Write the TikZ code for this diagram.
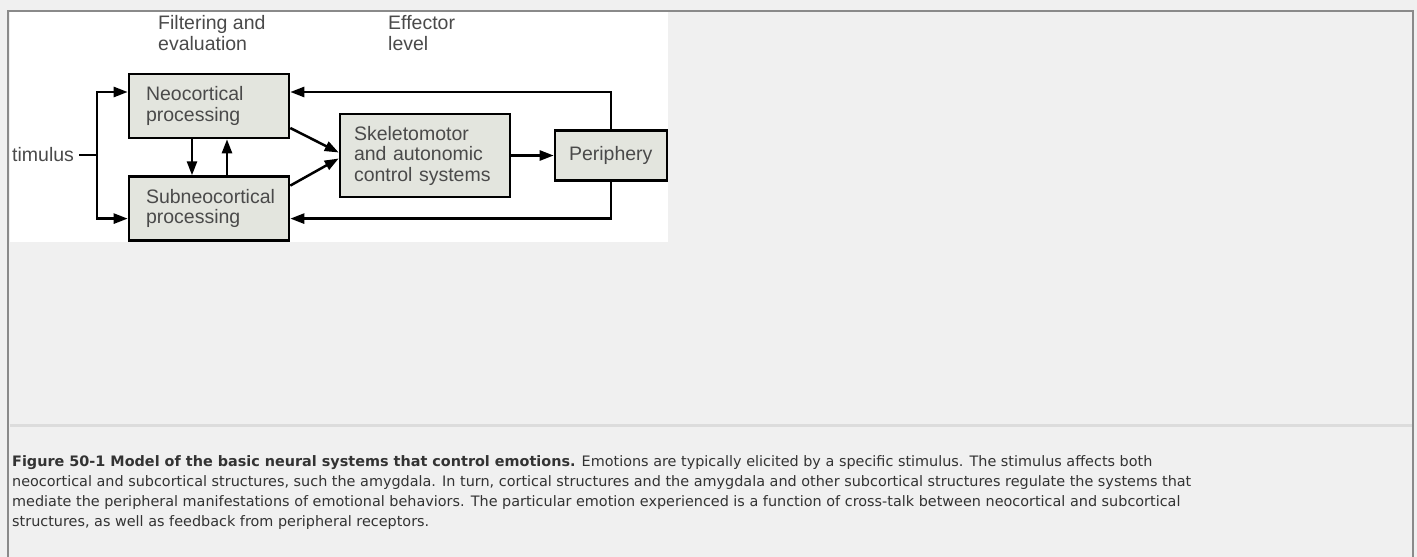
\documentclass[tikz,border=0pt]{standalone}
\usepackage{fontspec}
\newfontfamily\diagfont{Liberation Sans}
\newfontfamily\capfont{DejaVu Sans}
\usetikzlibrary{arrows.meta, positioning}

\definecolor{pagegray}{HTML}{F0F0F0}
\definecolor{framegray}{HTML}{8A8A8A}
\definecolor{rulegray}{HTML}{DCDCDC}
\definecolor{boxfill}{HTML}{E3E5DE}
\definecolor{labelgray}{HTML}{4A4A4A}
\definecolor{captext}{HTML}{333333}

\begin{document}
\begin{tikzpicture}[
    x=1pt, y=-1pt,
    every node/.style={font=\diagfont\fontsize{19.5}{20.5}\selectfont, text=labelgray},
    box/.style={rectangle, draw=black, line width=2.6pt, fill=boxfill, align=left, inner xsep=17pt, inner ysep=0pt},
    heading/.style={align=left, inner sep=0pt, anchor=west},
    arrow/.style={-{Triangle[length=14pt, width=10pt]}, line width=2.5pt},
    wire/.style={line width=2.5pt},
    caption/.style={anchor=north west, align=left, inner sep=0pt, font=\capfont\fontsize{14.4}{20}\selectfont, text=captext}
]

% ============ PAGE ============
\useasboundingbox (0,0) rectangle (1417,557);
\fill[pagegray] (0,0) rectangle (1417,557);
\fill[white] (10,12) rectangle (668,242);
\draw[framegray, line width=2pt] (8,557) -- (8,10.5) -- (1413,10.5) -- (1413,557);
\draw[rulegray, line width=3pt] (9.5,425) -- (1412,425);

% ============ COLUMN HEADINGS ============
\node[heading] (filt) at (158,33) {Filtering and\\evaluation};
\node[heading] (effect) at (388,33) {Effector\\level};

% ============ BOXES ============
\node[box, text width=126pt, minimum height=64pt] (neo) at (209,106) {Neocortical\\processing};
\node[box, text width=126pt, minimum height=64pt, below=36pt of neo] (sub) {Subneocortical\\processing};
\node[box, text width=142pt, inner xsep=14pt, minimum height=83pt] (skel) at (425,155.5) {Skeletomotor\\and autonomic\\control systems};
\node[box, text width=84pt, inner xsep=14pt, minimum height=50pt] (periph) at (611,155.5) {Periphery};

% ============ STIMULUS INPUT ============
\node[heading] (stim) at (12,155) {timulus};
\coordinate (split) at (97,155);
\draw[wire, shorten <=5pt] (stim) -- (split);
\draw[arrow] (split) |- ([yshift=14pt]neo.west);
\draw[arrow] (split) |- ([yshift=-10pt]sub.west);

% Cross-talk between levels
\draw[arrow] ([xshift=-17pt]neo.south) -- ([xshift=-17pt]sub.north);
\draw[arrow] ([xshift=18pt]sub.north) -- ([xshift=18pt]neo.south);

% ============ EFFECTOR PATH ============
\draw[arrow] ([yshift=-22pt]neo.east) -- ([yshift=3pt]skel.west);
\draw[arrow] ([yshift=23pt]sub.east) -- ([yshift=-3pt]skel.west);
\draw[arrow] (skel.east) -- (periph.west);

% Feedback from periphery
\draw[arrow] (periph.north) |- ([yshift=14pt]neo.east);
\draw[arrow] (periph.south) |- ([yshift=-10pt]sub.east);

% ============ CAPTION ============
\node[caption] (legend) at (12,455) {\textbf{Figure 50-1 Model of the basic neural systems that control emotions.} Emotions are typically elicited by a specific stimulus. The stimulus affects both\\
neocortical and subcortical structures, such the amygdala. In turn, cortical structures and the amygdala and other subcortical structures regulate the systems that\\
mediate the peripheral manifestations of emotional behaviors. The particular emotion experienced is a function of cross-talk between neocortical and subcortical\\
structures, as well as feedback from peripheral receptors.};

\end{tikzpicture}
\end{document}
